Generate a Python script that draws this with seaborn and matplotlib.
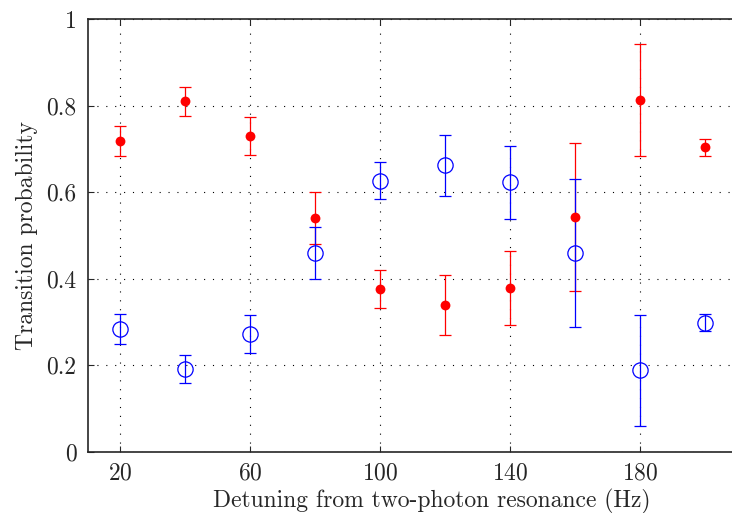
# plot.py
# Transition probability vs detuning, two populations with error bars

import numpy as np
import pandas as pd
import seaborn as sns
import matplotlib
matplotlib.use("Agg")
import matplotlib.pyplot as plt

# Data
detuning = [20, 40, 60, 80, 100, 120, 140, 160, 180, 200]
p_red = [0.719, 0.810, 0.729, 0.541, 0.376, 0.339, 0.378, 0.542, 0.813, 0.704]
err_red = [0.035, 0.033, 0.044, 0.060, 0.043, 0.070, 0.085, 0.171, 0.129, 0.020]
p_blue = [0.283, 0.192, 0.272, 0.459, 0.627, 0.662, 0.623, 0.459, 0.188, 0.298]
err_blue = [0.035, 0.032, 0.044, 0.060, 0.043, 0.070, 0.085, 0.171, 0.129, 0.020]

x_ticks = [20, 60, 100, 140, 180]
y_ticks = [0, 0.2, 0.4, 0.6, 0.8, 1]
y_tick_labels = ["0", "0.2", "0.4", "0.6", "0.8", "1"]


def main():
    sns.set_style("ticks")
    plt.rcParams["font.family"] = ["cmr10", "DejaVu Serif"]
    plt.rcParams["axes.formatter.use_mathtext"] = True

    df = pd.DataFrame({"detuning": detuning, "red": p_red, "blue": p_blue})

    fig = plt.figure(figsize=(7.32, 5.13), dpi=100)
    ax = fig.add_axes([0.1198, 0.1195, 0.8875, 0.843])

    # error bars (blue drawn over red lines, red dots on top of everything)
    ax.errorbar(detuning, p_red, yerr=err_red, fmt="none", ecolor="red",
                elinewidth=0.9, capsize=4, capthick=0.9, zorder=2)
    ax.errorbar(detuning, p_blue, yerr=err_blue, fmt="o", color="blue",
                mfc="none", mec="blue", ms=11, mew=0.9, elinewidth=0.9,
                capsize=4.5, capthick=0.9, zorder=3)
    sns.scatterplot(data=df, x="detuning", y="red", ax=ax, color="red",
                    s=50, edgecolor="red", linewidth=0, zorder=4, legend=False)

    ax.set_xlim(10, 210)
    ax.set_ylim(0, 1)
    ax.set_xticks(x_ticks)
    ax.set_yticks(y_ticks)
    ax.set_yticklabels(y_tick_labels)
    ax.tick_params(direction="in", top=True, right=False, length=4,
                   width=0.8, labelsize=17, pad=8)

    ax.grid(True, linestyle=(0, (1, 7)), color="black", linewidth=0.8)
    for side in ["left", "bottom", "top"]:
        ax.spines[side].set_linewidth(1.2)
    ax.spines["right"].set_visible(False)

    ax.set_xlabel("Detuning from two-photon resonance (Hz)", fontsize=17,
                  labelpad=3)
    ax.set_ylabel("Transition probability", fontsize=17, labelpad=6)
    # the original figure is cropped on the right, so the label sits off-centre
    ax.xaxis.set_label_coords(0.529, -0.085)

    fig.savefig("out.png", dpi=100)


if __name__ == "__main__":
    main()
